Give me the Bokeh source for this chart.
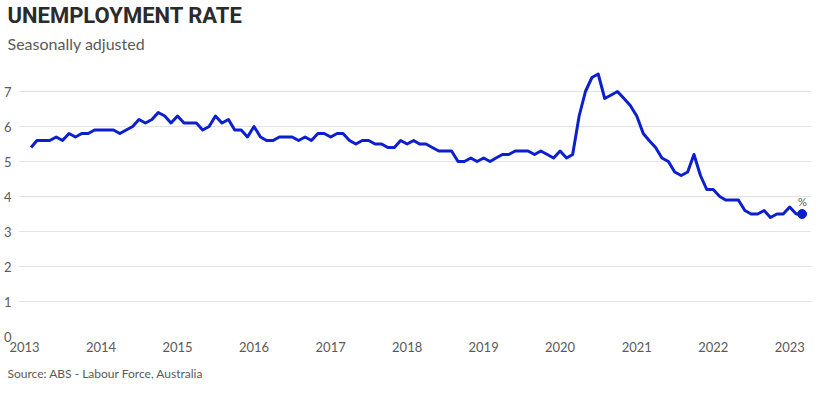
import pandas as pd
from bokeh.plotting import figure
from bokeh.models import Range1d, FixedTicker, Title, DatetimeTickFormatter
from bokeh.core.properties import value
from bokeh.embed import file_html
from bokeh.resources import INLINE

# ---- data ----
start_month = "2013-02-01"
rates = [
    5.4, 5.6, 5.6, 5.6, 5.7, 5.6, 5.8, 5.7, 5.8, 5.8, 5.9,            # 2013 Feb-Dec
    5.9, 5.9, 5.9, 5.8, 5.9, 6.0, 6.2, 6.1, 6.2, 6.4, 6.3, 6.1,       # 2014
    6.3, 6.1, 6.1, 6.1, 5.9, 6.0, 6.3, 6.1, 6.2, 5.9, 5.9, 5.7,       # 2015
    6.0, 5.7, 5.6, 5.6, 5.7, 5.7, 5.7, 5.6, 5.7, 5.6, 5.8, 5.8,       # 2016
    5.7, 5.8, 5.8, 5.6, 5.5, 5.6, 5.6, 5.5, 5.5, 5.4, 5.4, 5.6,       # 2017
    5.5, 5.6, 5.5, 5.5, 5.4, 5.3, 5.3, 5.3, 5.0, 5.0, 5.1, 5.0,       # 2018
    5.1, 5.0, 5.1, 5.2, 5.2, 5.3, 5.3, 5.3, 5.2, 5.3, 5.2, 5.1,       # 2019
    5.3, 5.1, 5.2, 6.3, 7.0, 7.4, 7.5, 6.8, 6.9, 7.0, 6.8, 6.6,       # 2020
    6.3, 5.8, 5.6, 5.4, 5.1, 5.0, 4.7, 4.6, 4.7, 5.2, 4.6, 4.2,       # 2021
    4.2, 4.0, 3.9, 3.9, 3.9, 3.6, 3.5, 3.5, 3.6, 3.4, 3.5, 3.5,       # 2022
    3.7, 3.5, 3.5,                                                    # 2023 Jan-Mar
]
tick_years = list(range(2013, 2024))
y_ticks = [0, 1, 2, 3, 4, 5, 6, 7]
title_text = "UNEMPLOYMENT RATE"
subtitle_text = "Seasonally adjusted"
source_text = "Source: ABS - Labour Force, Australia"
unit_text = "%"

months = pd.date_range(start_month, periods=len(rates), freq="MS")

LINE = "#0b1fcf"
GRAY = "#5a5a5a"
FONT = "Lato"

x_start = pd.Timestamp("2012-12-03")
x_end = pd.Timestamp("2023-04-15")

p = figure(
    width=811, frame_height=280,
    x_axis_type="datetime",
    x_range=Range1d(x_start, x_end),
    y_range=Range1d(0, 8.0),
    output_backend="svg", toolbar_location=None,
    min_border_left=14, min_border_right=0, min_border_top=0, min_border_bottom=0,
)
p.outline_line_color = None
p.background_fill_color = "white"
p.border_fill_color = "white"

# titles
p.title.text = title_text
p.title.text_font = "Roboto"
p.title.text_font_size = "22px"
p.title.text_font_style = "bold"
p.title.text_color = "#2b2b2b"
p.title.align = "left"
p.title.offset = -11
p.title.standoff = 0

p.add_layout(Title(text=subtitle_text, text_font=FONT, text_font_size="16px",
                   text_font_style="normal", text_color=GRAY, align="left",
                   offset=-11, standoff=8), "above")

p.add_layout(Title(text=source_text, text_font=FONT, text_font_size="12px",
                   text_font_style="normal", text_color=GRAY, align="left",
                   offset=-11, standoff=18), "below")

# axes
p.xaxis.ticker = FixedTicker(ticks=[pd.Timestamp(f"{y}-01-01").timestamp() * 1000 for y in tick_years])
p.xaxis.formatter = DatetimeTickFormatter(years="%Y", months="%Y", days="%Y")
p.yaxis.ticker = FixedTicker(ticks=y_ticks)
for ax in (p.xaxis[0], p.yaxis[0]):
    ax.axis_line_color = None
    ax.major_tick_line_color = None
    ax.minor_tick_line_color = None
    ax.major_tick_out = 0
    ax.major_tick_in = 0
    ax.minor_tick_out = 0
    ax.minor_tick_in = 0
    ax.major_label_text_font = FONT
    ax.major_label_text_font_size = "13px"
    ax.major_label_text_color = GRAY
p.xaxis.major_label_standoff = 5
p.yaxis.major_label_standoff = 7

p.xgrid.grid_line_color = None
p.ygrid.ticker = FixedTicker(ticks=y_ticks)
p.ygrid.grid_line_color = "#e3e3e3"
p.ygrid.grid_line_width = 1

# data
p.line(months, rates, line_color=LINE, line_width=3, line_join="round")
p.scatter([months[-1]], [rates[-1]], size=9, color=LINE)

# "%" unit label next to the last point, kept inside the plot area so it is not clipped
p.text([months[-1]], [rates[-1]], text=[unit_text], x_offset=-4, y_offset=-6,
       text_align="left", text_baseline="bottom", text_font=value(FONT),
       text_font_size="11px", text_color=GRAY)

open("out.html", "w").write(file_html(p, INLINE))
